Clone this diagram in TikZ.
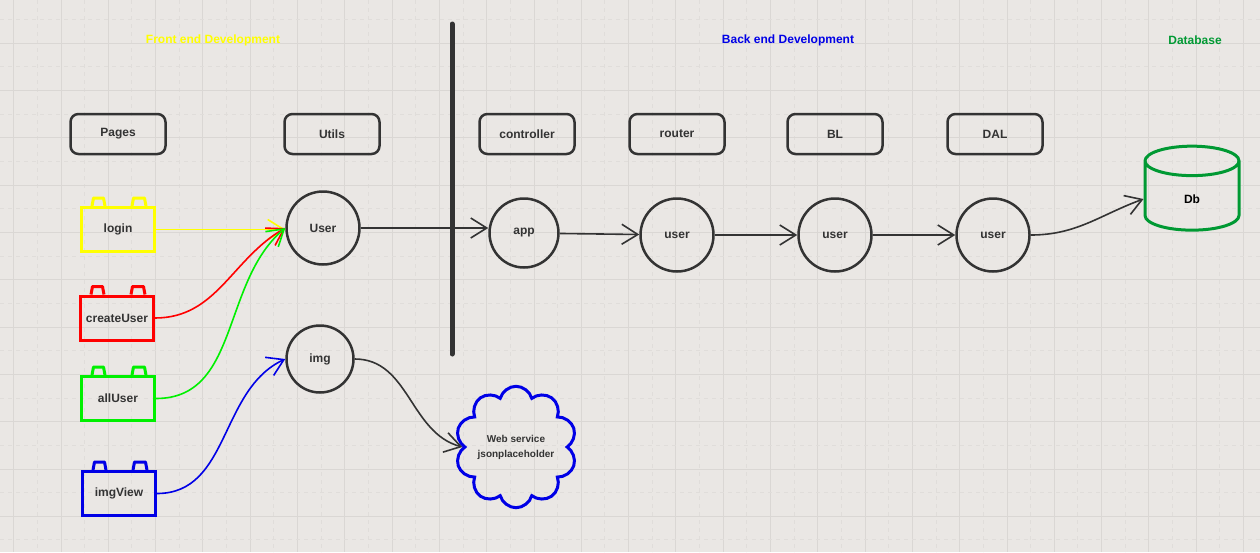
\documentclass[tikz,border=0pt]{standalone}
\usepackage{fontspec}
\setmainfont{Liberation Sans}
\usetikzlibrary{positioning,arrows.meta,shapes.symbols,shapes.geometric}

\definecolor{ink}{RGB}{51,51,51}
\definecolor{paper}{RGB}{234,231,228}
\definecolor{gridmajor}{RGB}{218,215,212}
\definecolor{gridminor}{RGB}{224,221,218}
\definecolor{dbgreen}{RGB}{0,153,51}
\definecolor{pageyellow}{RGB}{255,255,0}
\definecolor{pagered}{RGB}{255,0,0}
\definecolor{pagegreen}{RGB}{0,240,0}
\definecolor{pageblue}{RGB}{0,0,230}

\tikzset{
	label font/.style={font=\bfseries\fontsize{12}{14}\selectfont},
	header/.style={draw=ink, line width=2.5pt, rounded corners=8pt, minimum width=95pt,
		minimum height=40pt, text=ink, label font},
	module/.style={draw=ink, circle, line width=2.5pt, minimum size=#1, text=ink, label font},
	brick/.style={draw=#1, line width=3pt, minimum width=73pt, minimum height=44pt,
		text=ink, label font},
	link/.style={line width=1.6pt, -{Straight Barb[length=16pt,width=20pt]}},
	title/.style={label font},
}

\begin{document}
\begin{tikzpicture}[x=1pt, y=1pt]
		\useasboundingbox (0,0) rectangle (1260,-552);
		\fill[paper] (0,0) rectangle (1260,-552);
		% grid
		\foreach \i in {0,...,26} {
			\draw[gridmajor, line width=1pt] (13.7+47.3*\i,0) -- ++(0,-552);
			\draw[gridminor, line width=1pt, dash pattern=on 4pt off 4pt] (37.35+47.3*\i,0) -- ++(0,-552);
		}
		\foreach \j in {0,...,11} {
			\draw[gridmajor, line width=1pt] (0,-43.3-47.3*\j) -- ++(1260,0);
			\draw[gridminor, line width=1pt, dash pattern=on 4pt off 4pt] (0,-19.65-47.3*\j) -- ++(1260,0);
		}

		% titles
		\node[title, text=pageyellow] (front) at (213,-40) {Front end Development};
		\node[title, text=pageblue] (back) at (788,-40) {Back end Development};
		\node[title, text=dbgreen] (database) at (1195,-40) {Database};

		% separator
		\draw[ink, line width=5pt, line cap=round] (452,-24) -- (452,-354);

		% layer headers
		\node[header] (pages) at (118,-134) {Pages};
		\node[header, on grid, right=214pt of pages] (utils) {Utils};
		\node[header, on grid, right=195pt of utils] (controller) {controller};
		\node[header, on grid, right=150pt of controller] (router) {router};
		\node[header, on grid, right=158pt of router] (bl) {BL};
		\node[header, on grid, right=160pt of bl] (dal) {DAL};

		% pages
		\node[brick=pageyellow] (login) at (118,-229.5) {login};
		\node[brick=pagered] (createuser) at (117,-318) {createUser};
		\node[brick=pagegreen] (alluser) at (118,-398.5) {allUser};
		\node[brick=pageblue] (imgview) at (119,-493.5) {imgView};
		\foreach \b/\c in {login/pageyellow, createuser/pagered, alluser/pagegreen, imgview/pageblue} {
			\draw[\c, line width=3pt, line join=round] ([xshift=12pt]\b.north west) -- ++(1.5,8) -- ++(10,0) -- ++(1.5,-8);
			\draw[\c, line width=3pt, line join=round] ([xshift=52pt]\b.north west) -- ++(1.5,8) -- ++(11,0) -- ++(1.5,-8);
		}

		% modules
		\node[module=73pt] (user) at (323,-228) {User};
		\node[module=67pt] (img) at (320,-359) {img};
		\node[module=69pt, on grid, below=99pt of controller, xshift=-3pt] (app) {app};
		\node[module=73pt, on grid, below=101pt of router] (userrouter) {user};
		\node[module=73pt, on grid, below=101pt of bl] (userbl) {user};
		\node[module=73pt, on grid, below=101pt of dal, xshift=-2pt] (userdal) {user};

		% external
		\node[cloud, draw=pageblue, line width=3pt, cloud puffs=10, aspect=1, inner xsep=-2.2pt, inner ysep=-1.5pt,
			align=center, text=ink,
			font=\bfseries\fontsize{10}{15}\selectfont] (webservice) at (516,-447) {Web service\\jsonplaceholder};
		\node[cylinder, shape border rotate=90, draw=dbgreen, line width=3pt, aspect=1.3,
			minimum width=94pt, minimum height=84pt, label font] (db) at (1192,-199) {Db};

		% links
		\draw[link, pageyellow] (login) -- (login -| user.west);
		\draw[link, pagered] (createuser.east) to[out=0, in=210] (user.west);
		\draw[link, pagegreen] (alluser.east) to[out=0, in=220] (user.west);
		\draw[link, pageblue] (imgview.east) to[out=0, in=205] (img.west);
		\draw[link, ink] (user) -- (user -| app.west);
		\draw[link, ink] (app) -- (userrouter);
		\draw[link, ink] (userrouter) -- (userbl);
		\draw[link, ink] (userbl) -- (userdal);
		\draw[link, ink] (userdal.east) to[out=0, in=200] (db.west);
		\draw[link, ink] (img.east) to[out=0, in=165] (webservice.west);
	\end{tikzpicture}
\end{document}
